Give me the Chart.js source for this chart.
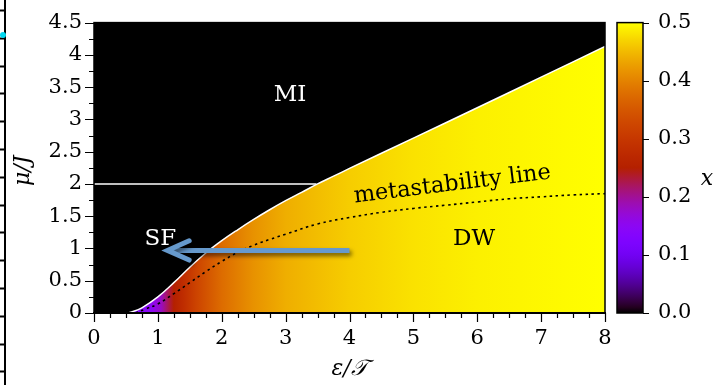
<!DOCTYPE html>
<html><head><meta charset="utf-8">
<script src="https://cdn.jsdelivr.net/npm/chart.js@4.4.0/dist/chart.umd.min.js"></script>
<style>html,body{margin:0;padding:0;background:#fff;}canvas{display:block;}</style>
</head><body>
<canvas id="c" width="716" height="385"></canvas>
<script>
// ---- data ----
const boundaryX = [0, 0.5, 0.6, 0.75, 1.0, 1.25, 1.5, 1.75, 2.0, 2.25, 2.5, 2.75, 3.0, 3.25, 3.5, 3.75, 4.0, 5, 6, 7, 8];
const boundaryY = [0, 0, 0.02, 0.08, 0.25, 0.47, 0.71, 0.93, 1.12, 1.29, 1.45, 1.60, 1.74, 1.87, 2.00, 2.12, 2.24, 2.71, 3.18, 3.655, 4.13];
const metaX = [0.65, 0.8, 1.0, 1.25, 1.5, 1.75, 2.0, 2.25, 2.5, 2.75, 3.0, 3.5, 4.0, 4.5, 5.0, 5.5, 6.0, 6.5, 7.0, 7.5, 8.0];
const metaY = [0.0, 0.06, 0.14, 0.30, 0.47, 0.64, 0.80, 0.94, 1.05, 1.14, 1.22, 1.38, 1.48, 1.56, 1.62, 1.67, 1.72, 1.77, 1.80, 1.83, 1.85];
const hLineX = [0, 3.48];
const hLineY = [2, 2];
const fillX = [0.5, 0.65, 0.9, 1.05, 1.15, 1.25, 1.4, 1.6, 2.0, 2.5, 3.0, 4.0, 5.0, 6.0, 8.0];
const fillVal = [0.11, 0.13, 0.15, 0.18, 0.22, 0.25, 0.28, 0.32, 0.375, 0.415, 0.44, 0.465, 0.48, 0.49, 0.5];
const xTickVals = [0, 1, 2, 3, 4, 5, 6, 7, 8];
const yTickVals = [0, 0.5, 1, 1.5, 2, 2.5, 3, 3.5, 4, 4.5];
const cbTickVals = [0, 0.1, 0.2, 0.3, 0.4, 0.5];
const arrowX = [4.0, 1.15];
const arrowY = [0.97, 0.97];
const arrowHeadX = [1.49, 1.15, 1.49];
const arrowHeadY = [1.12, 0.97, 0.82];
const regionText = ['MI', 'SF', 'DW'];
const regionX = [3.07, 1.04, 5.95];
const regionY = [3.37, 1.15, 1.15];
const regionColor = ['#ffffff', '#ffffff', '#000000'];
const metaLabel = 'metastability line';
const metaLabelX = 5.61, metaLabelY = 1.99;

const SERIF = "'DejaVu Serif', 'Liberation Serif', serif";

function cmap(t) {
  const n = Math.min(1, Math.max(0, t / 0.5));
  const r = Math.sqrt(n), g = n * n * n, b = Math.max(0, Math.sin(2 * Math.PI * n));
  return 'rgb(' + Math.round(r * 255) + ',' + Math.round(g * 255) + ',' + Math.round(b * 255) + ')';
}
const pts = (xs, ys) => xs.map((x, i) => ({ x: x, y: ys[i] }));
const fmt = v => (Math.round(v * 100) / 100).toString();

const bgPlugin = {
  id: 'bg',
  beforeDatasetsDraw(chart) {
    const { ctx, chartArea: a } = chart;
    ctx.save();
    ctx.fillStyle = '#000';
    ctx.fillRect(a.left, a.top, a.right - a.left, a.bottom - a.top);
    ctx.restore();
  }
};

const decoPlugin = {
  id: 'deco',
  afterDatasetsDraw(chart) {
    const { ctx, chartArea: a, scales } = chart;
    const xs = scales.x, ys = scales.y;
    ctx.save();
    // arrow
    ctx.shadowColor = 'rgba(0,0,0,0.55)';
    ctx.shadowBlur = 4;
    ctx.shadowOffsetX = 2;
    ctx.shadowOffsetY = 3;
    ctx.strokeStyle = '#6699cc';
    ctx.lineWidth = 5;
    ctx.lineCap = 'butt';
    ctx.beginPath();
    ctx.moveTo(xs.getPixelForValue(arrowX[0]), ys.getPixelForValue(arrowY[0]));
    ctx.lineTo(xs.getPixelForValue(arrowX[1]) + 2, ys.getPixelForValue(arrowY[1]));
    ctx.stroke();
    ctx.lineCap = 'round';
    ctx.lineJoin = 'miter';
    ctx.beginPath();
    arrowHeadX.forEach((x, i) => {
      const px = xs.getPixelForValue(x), py = ys.getPixelForValue(arrowHeadY[i]);
      if (i === 0) ctx.moveTo(px, py); else ctx.lineTo(px, py);
    });
    ctx.stroke();
    ctx.restore();

    // region labels
    ctx.save();
    ctx.textAlign = 'center';
    ctx.textBaseline = 'middle';
    ctx.font = '23px ' + SERIF;
    regionText.forEach((t, i) => {
      ctx.fillStyle = regionColor[i];
      ctx.fillText(t, xs.getPixelForValue(regionX[i]), ys.getPixelForValue(regionY[i]));
    });
    ctx.translate(xs.getPixelForValue(metaLabelX), ys.getPixelForValue(metaLabelY));
    ctx.rotate(-7 * Math.PI / 180);
    ctx.fillStyle = '#000';
    ctx.font = '22.5px ' + SERIF;
    ctx.fillText(metaLabel, 0, 0);
    ctx.restore();

    // frame
    ctx.save();
    ctx.strokeStyle = '#000';
    ctx.lineWidth = 1.5;
    ctx.strokeRect(a.left, a.top, a.right - a.left, a.bottom - a.top);
    ctx.lineWidth = 2;
    ctx.beginPath();
    ctx.moveTo(a.left - 1, a.bottom);
    ctx.lineTo(a.right + 1, a.bottom);
    ctx.stroke();
    // ticks
    ctx.lineWidth = 1.2;
    ctx.beginPath();
    for (let v = 0; v <= 8.0001; v += 0.25) {
      const px = Math.round(xs.getPixelForValue(v)) + 0.5;
      const major = Math.abs(v - Math.round(v)) < 1e-6;
      ctx.moveTo(px, a.bottom);
      ctx.lineTo(px, a.bottom + (major ? 9 : 5));
    }
    for (let v = 0; v <= 4.5001; v += 0.25) {
      const py = Math.round(ys.getPixelForValue(v)) + 0.5;
      const major = Math.abs(v * 2 - Math.round(v * 2)) < 1e-6;
      ctx.moveTo(a.left, py);
      ctx.lineTo(a.left - (major ? 9 : 5), py);
    }
    ctx.stroke();
    ctx.restore();
  },
  afterDraw(chart) {
    const { ctx, chartArea: a, scales } = chart;
    const cb = scales.cb;
    ctx.save();
    // colorbar
    const x0 = a.right + 12, w = 26;
    const yTop = cb.getPixelForValue(0.5), yBot = cb.getPixelForValue(0);
    const g = ctx.createLinearGradient(0, yBot, 0, yTop);
    for (let i = 0; i <= 50; i++) g.addColorStop(i / 50, cmap(0.5 * i / 50));
    ctx.fillStyle = g;
    ctx.fillRect(x0, yTop, w, yBot - yTop);
    ctx.strokeStyle = '#000';
    ctx.lineWidth = 1.5;
    ctx.strokeRect(x0, yTop, w, yBot - yTop);
    ctx.lineWidth = 1.2;
    ctx.beginPath();
    cbTickVals.forEach(v => {
      const py = Math.round(cb.getPixelForValue(v)) + 0.5;
      ctx.moveTo(x0 + w, py);
      ctx.lineTo(x0 + w + 6, py);
    });
    ctx.stroke();
    ctx.fillStyle = '#000';
    ctx.textAlign = 'center';
    ctx.textBaseline = 'middle';
    ctx.font = 'italic 22px ' + SERIF;
    ctx.fillText('x', 707, cb.getPixelForValue(0.23));
    // axis titles
    ctx.fillText('\u03b5/\ud835\udcaf', (a.left + a.right) / 2, 369);
    ctx.translate(23, (a.top + a.bottom) / 2 + 3);
    ctx.rotate(-Math.PI / 2);
    ctx.fillText('\u03bc/J', 0, 0);
    ctx.restore();

    // cropped neighbour figure edge on the left
    ctx.save();
    ctx.strokeStyle = '#000';
    ctx.lineWidth = 2;
    ctx.beginPath();
    ctx.moveTo(5, 0); ctx.lineTo(5, 385);
    for (let y = 10; y < 385; y += 27.8) { ctx.moveTo(0, Math.round(y) + 0.5); ctx.lineTo(5, Math.round(y) + 0.5); }
    ctx.stroke();
    ctx.fillStyle = '#00d8f0';
    ctx.beginPath(); ctx.arc(3, 35, 3, 0, Math.PI * 2); ctx.fill();
    ctx.restore();
  }
};

new Chart(document.getElementById('c'), {
  type: 'line',
  data: {
    datasets: [
      { data: pts(hLineX, hLineY), borderColor: '#ffffff', borderWidth: 1.5, pointRadius: 0, fill: false },
      { data: pts(metaX, metaY), borderColor: '#000000', borderWidth: 1.6, borderDash: [2.5, 3.5], pointRadius: 0, fill: false, tension: 0.4 },
      { data: pts(boundaryX, boundaryY), borderColor: '#ffffff', borderWidth: 1.5, pointRadius: 0, tension: 0.4,
        fill: 'origin',
        backgroundColor: (c) => {
          const ch = c.chart;
          if (!ch.chartArea) return 'rgba(0,0,0,0)';
          const xs = ch.scales.x;
          const g = ch.ctx.createLinearGradient(xs.getPixelForValue(0), 0, xs.getPixelForValue(8), 0);
          fillX.forEach((x, i) => g.addColorStop(x / 8, cmap(fillVal[i])));
          return g;
        } }
    ]
  },
  options: {
    responsive: false,
    animation: false,
    devicePixelRatio: 1,
    layout: { padding: { top: 17, left: 0, right: 0, bottom: 0 } },
    plugins: { legend: { display: false }, tooltip: { enabled: false } },
    elements: { point: { radius: 0 } },
    scales: {
      x: {
        type: 'linear', min: 0, max: 8,
        afterBuildTicks: s => { s.ticks = xTickVals.map(v => ({ value: v })); },
        ticks: { callback: v => fmt(v), color: '#000', font: { family: SERIF, size: 21 }, padding: 4, maxRotation: 0, autoSkip: false },
        grid: { display: true, drawOnChartArea: false, drawTicks: true, tickLength: 9, tickColor: 'rgba(0,0,0,0)' },
        border: { display: false },
        afterFit: s => { s.height = 72; }
      },
      y: {
        type: 'linear', min: 0, max: 4.5,
        afterBuildTicks: s => { s.ticks = yTickVals.map(v => ({ value: v })); },
        ticks: { callback: v => fmt(v), color: '#000', font: { family: SERIF, size: 21 }, padding: 3, autoSkip: false },
        grid: { display: true, drawOnChartArea: false, drawTicks: true, tickLength: 9, tickColor: 'rgba(0,0,0,0)' },
        border: { display: false },
        afterFit: s => { s.width = 94; }
      },
      cb: {
        type: 'linear', position: 'right', min: 0, max: 0.5,
        afterBuildTicks: s => { s.ticks = cbTickVals.map(v => ({ value: v })); },
        ticks: { callback: v => v.toFixed(1), color: '#000', font: { family: SERIF, size: 21 }, padding: 10, autoSkip: false },
        grid: { display: true, drawOnChartArea: false, drawTicks: true, tickLength: 43, tickColor: 'rgba(0,0,0,0)' },
        border: { display: false },
        afterFit: s => { s.width = 111; }
      }
    }
  },
  plugins: [bgPlugin, decoPlugin]
});
</script>
</body></html>
